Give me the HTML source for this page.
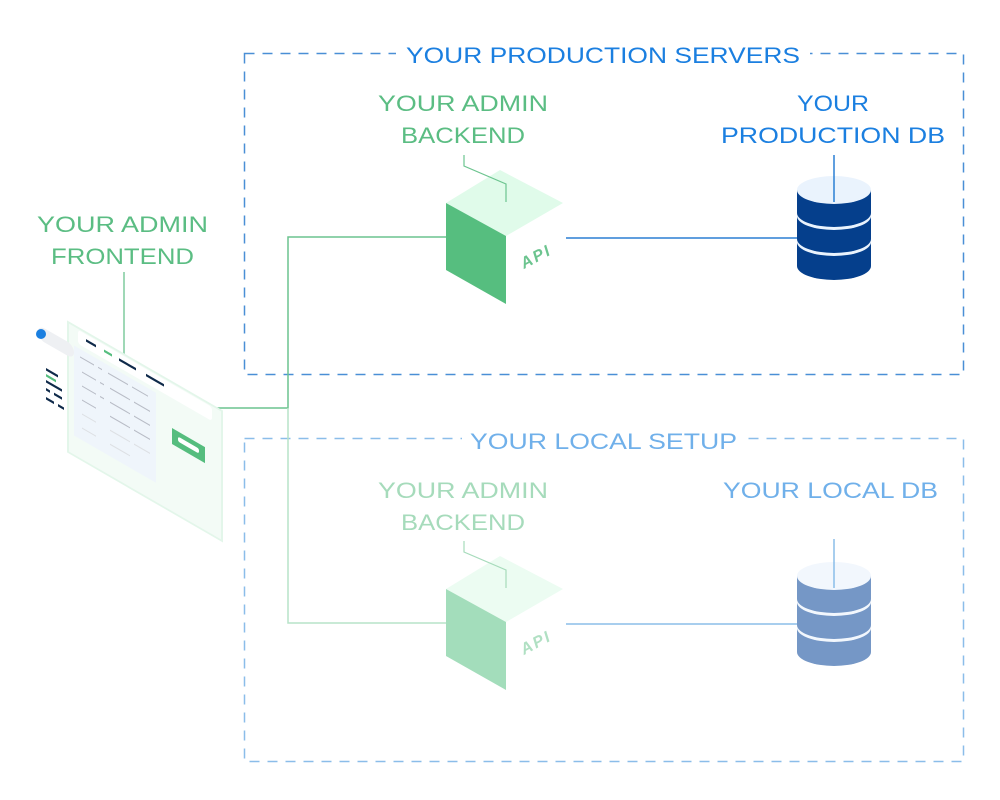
<!DOCTYPE html>
<html><head><meta charset="utf-8"><style>
html,body{margin:0;padding:0;background:#fff;}
svg{display:block;}
text{font-family:"Liberation Sans",sans-serif;font-size:22px;}
</style></head><body>
<svg width="1000" height="800" viewBox="0 0 1000 800" xmlns="http://www.w3.org/2000/svg">
<!-- boxes -->
<rect x="244.5" y="53.5" width="719" height="321" fill="none" stroke="#4a8fd6" stroke-width="1.5" stroke-dasharray="10 8"/>
<rect x="244.5" y="438.5" width="719" height="323" fill="none" stroke="#8bbde9" stroke-width="1.5" stroke-dasharray="10 8"/>
<rect x="396" y="40" width="414" height="30" fill="#fff"/>
<rect x="462" y="426" width="284" height="30" fill="#fff"/>
<text x="406" y="63" fill="#1b7fe0" textLength="394" lengthAdjust="spacingAndGlyphs">YOUR PRODUCTION SERVERS</text>
<text x="470" y="449" fill="#70b0ea" textLength="267" lengthAdjust="spacingAndGlyphs">YOUR LOCAL SETUP</text>

<!-- labels -->
<text x="378" y="111" fill="#5bbd83" textLength="170" lengthAdjust="spacingAndGlyphs">YOUR ADMIN</text>
<text x="401" y="143" fill="#5bbd83" textLength="124" lengthAdjust="spacingAndGlyphs">BACKEND</text>
<text x="797" y="111" fill="#1b7fe0" textLength="72" lengthAdjust="spacingAndGlyphs">YOUR</text>
<text x="721" y="143" fill="#1b7fe0" textLength="224" lengthAdjust="spacingAndGlyphs">PRODUCTION DB</text>
<text x="37" y="232" fill="#5bbd83" textLength="171" lengthAdjust="spacingAndGlyphs">YOUR ADMIN</text>
<text x="51" y="264" fill="#5bbd83" textLength="143" lengthAdjust="spacingAndGlyphs">FRONTEND</text>
<text x="378" y="498" fill="#a6dbbb" textLength="170" lengthAdjust="spacingAndGlyphs">YOUR ADMIN</text>
<text x="401" y="530" fill="#a6dbbb" textLength="124" lengthAdjust="spacingAndGlyphs">BACKEND</text>
<text x="723" y="498" fill="#70b0ea" textLength="215" lengthAdjust="spacingAndGlyphs">YOUR LOCAL DB</text>

<!-- connectors -->
<line x1="124" y1="272" x2="124" y2="355" stroke="#7fcb9e" stroke-width="1.5"/>
<polyline points="215,408 288,408 288,237 446,237" fill="none" stroke="#6cc48f" stroke-width="1.5"/>
<polyline points="288,408 288,623 446,623" fill="none" stroke="#b7e3c8" stroke-width="1.5"/>
<line x1="566" y1="238" x2="797" y2="238" stroke="#2b7fd4" stroke-width="1.5"/>
<line x1="566" y1="624" x2="797" y2="624" stroke="#8bbde9" stroke-width="1.5"/>
<line x1="834" y1="155" x2="834" y2="200" stroke="#2b7fd4" stroke-width="1.5"/>
<line x1="834" y1="539" x2="834" y2="586" stroke="#8bbde9" stroke-width="1.5"/>

<!-- cubes -->
<g>
<polygon points="446,203 500,170 563,203 506,236" fill="#e0fbea"/>
<polygon points="446,203 506,236 506,304 446,270" fill="#56be7f"/>
<text x="0" y="0" transform="translate(524,269) rotate(-28)" fill="#6cc48f" style="font-size:16px;font-style:italic;font-weight:bold;letter-spacing:2px">API</text>
</g>
<g>
<polygon points="446,589 500,556 563,589 506,622" fill="#ecfcf2"/>
<polygon points="446,589 506,622 506,690 446,656" fill="#a3ddbb"/>
<text x="0" y="0" transform="translate(524,655) rotate(-28)" fill="#b0e0c3" style="font-size:16px;font-style:italic;font-weight:bold;letter-spacing:2px">API</text>
</g>
<polyline points="464,155 464,166 506,184 506,202" fill="none" stroke="#6cc48f" stroke-width="1.2"/>
<polyline points="464,541 464,552 506,570 506,588" fill="none" stroke="#a6dbbb" stroke-width="1.2"/>

<!-- DBs -->
<g>
<path d="M797 242 h74 v24 a37 14 0 0 1 -74 0 z" fill="#053f8c"/>
<ellipse cx="834" cy="242" rx="37" ry="14" fill="#eaf3fd"/>
<path d="M797 216 h74 v23 a37 14 0 0 1 -74 0 z" fill="#053f8c"/>
<ellipse cx="834" cy="216" rx="37" ry="14" fill="#eaf3fd"/>
<path d="M797 190 h74 v23 a37 14 0 0 1 -74 0 z" fill="#053f8c"/>
<ellipse cx="834" cy="190" rx="37" ry="14" fill="#eaf3fd"/>
</g>
<line x1="834" y1="176" x2="834" y2="202" stroke="#2b7fd4" stroke-width="1.5"/>
<g>
<path d="M797 628 h74 v24 a37 14 0 0 1 -74 0 z" fill="#7597c6"/>
<ellipse cx="834" cy="628" rx="37" ry="14" fill="#f2f7fd"/>
<path d="M797 602 h74 v23 a37 14 0 0 1 -74 0 z" fill="#7597c6"/>
<ellipse cx="834" cy="602" rx="37" ry="14" fill="#f2f7fd"/>
<path d="M797 576 h74 v23 a37 14 0 0 1 -74 0 z" fill="#7597c6"/>
<ellipse cx="834" cy="576" rx="37" ry="14" fill="#f2f7fd"/>
</g>
<line x1="834" y1="562" x2="834" y2="588" stroke="#8bbde9" stroke-width="1.5"/>

<!-- frontend panel -->
<g transform="translate(68,322) skewY(30)">
<rect x="0" y="0" width="154" height="130" fill="#f3fbf6" stroke="#e3f6ea" stroke-width="2"/>
<rect x="-30" y="20" width="36" height="14" rx="7" fill="#eef0f3"/>
<rect x="10" y="2" width="134" height="14" rx="3" fill="#ffffff"/>
<rect x="6" y="20" width="82" height="90" fill="#eef4fc" opacity="0.8"/>
<g stroke="#0f2a4a" stroke-width="2.5">
<line x1="18" y1="8" x2="28" y2="8"/>
<line x1="51" y1="8" x2="68" y2="8"/>
<line x1="78" y1="8" x2="96" y2="8"/>
<line x1="-22" y1="60" x2="-10" y2="60"/>
<line x1="-22" y1="72" x2="-6" y2="72"/>
<line x1="-22" y1="80" x2="-18" y2="80"/>
<line x1="-14" y1="80" x2="-6" y2="80"/>
<line x1="-22" y1="89" x2="-14" y2="89"/>
<line x1="-10" y1="89" x2="-4" y2="89"/>
</g>
<line x1="36" y1="8" x2="44" y2="8" stroke="#56be7f" stroke-width="2.5"/>
<line x1="-22" y1="66" x2="-12" y2="66" stroke="#56be7f" stroke-width="2.5"/>
<g stroke="#b8bcc6" stroke-width="1.2">
<line x1="12" y1="28" x2="26" y2="28"/><line x1="30" y1="28" x2="34" y2="28"/><line x1="40" y1="28" x2="60" y2="28"/><line x1="64" y1="28" x2="80" y2="28"/>
<line x1="14" y1="42" x2="28" y2="42"/><line x1="32" y1="42" x2="36" y2="42"/><line x1="42" y1="42" x2="62" y2="42"/><line x1="66" y1="42" x2="82" y2="42"/>
<line x1="14" y1="56" x2="28" y2="56"/><line x1="32" y1="56" x2="36" y2="56"/><line x1="42" y1="56" x2="62" y2="56"/><line x1="66" y1="56" x2="82" y2="56"/>
<line x1="14" y1="70" x2="28" y2="70"/><line x1="42" y1="70" x2="62" y2="70"/><line x1="66" y1="70" x2="82" y2="70"/>
</g>
<g stroke="#dde0e4" stroke-width="1.2">
<line x1="14" y1="84" x2="28" y2="84"/><line x1="42" y1="84" x2="62" y2="84"/><line x1="66" y1="84" x2="82" y2="84"/>
<line x1="14" y1="98" x2="28" y2="98"/><line x1="42" y1="98" x2="62" y2="98"/>
</g>
<rect x="104" y="46" width="33" height="16" fill="#55bd7e"/>
<rect x="110" y="51" width="21" height="5" rx="2" fill="#fff"/>
</g>
<circle cx="41" cy="334" r="5" fill="#1b7fe0"/>
</svg>
</body></html>
